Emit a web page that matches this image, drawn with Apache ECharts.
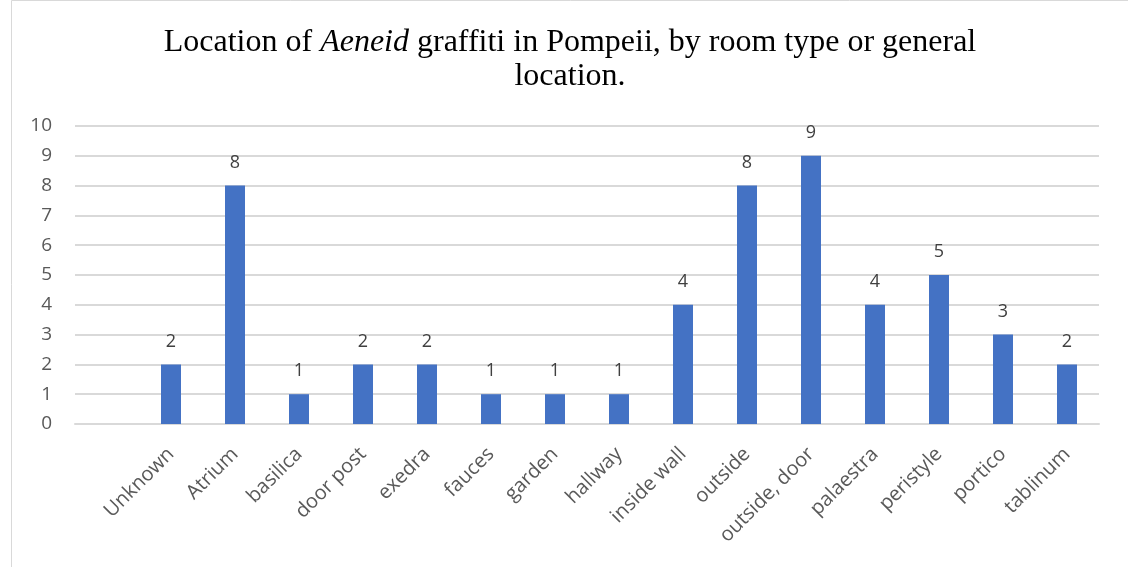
<!DOCTYPE html>
<html>
<head>
<meta charset="utf-8">
<script src="https://cdn.jsdelivr.net/npm/echarts@6/dist/echarts.min.js"></script>
<style>
  html, body { margin: 0; padding: 0; background: #fff; }
  #chart { width: 1128px; height: 567px; }
</style>
</head>
<body>
<div id="chart"></div>
<script>
// first slot is an empty category, like in the source sheet
var categories = ["", "Unknown", "Atrium", "basilica", "door post", "exedra", "fauces", "garden",
  "hallway", "inside wall", "outside", "outside, door", "palaestra", "peristyle", "portico", "tablinum"];
var counts = [null, 2, 8, 1, 2, 2, 1, 1, 1, 4, 8, 9, 4, 5, 3, 2];
var yTicks = [0, 10, 1]; // min, max, interval

var chart = echarts.init(document.getElementById("chart"));

chart.setOption({
  animation: false,
  title: {
    left: 565,
    textAlign: "center",
    top: 21,
    text: "{n|Location of }{i|Aeneid}{n| graffiti in Pompeii, by room type or general}\n{n|location.}",
    textStyle: {
      fontWeight: "normal",
      rich: {
        n: { fontFamily: "Liberation Serif", fontSize: 32, fontWeight: "normal", color: "#000", lineHeight: 34 },
        i: { fontFamily: "Liberation Serif", fontSize: 32, fontWeight: "normal", fontStyle: "italic", color: "#000", lineHeight: 34 }
      }
    }
  },
  graphic: [{
    type: "rect",
    shape: { x: 11.5, y: 0.5, width: 1200, height: 700 },
    style: { fill: "none", stroke: "#d9d9d9", lineWidth: 1 },
    silent: true
  }],
  grid: { left: 75, right: 29, top: 126, bottom: 143 },
  xAxis: {
    type: "category",
    data: categories,
    axisLine: { show: true, lineStyle: { color: "#d9d9d9", width: 2 } },
    axisTick: { show: false },
    axisLabel: {
      interval: 0,
      rotate: 45,
      margin: 27,
      fontFamily: "Open Sans",
      fontSize: 20,
      color: "#595959"
    }
  },
  yAxis: {
    type: "value",
    min: yTicks[0],
    max: yTicks[1],
    interval: yTicks[2],
    axisLine: { show: false },
    axisTick: { show: false },
    splitLine: { lineStyle: { color: "#d9d9d9", width: 2 } },
    axisLabel: {
      margin: 23,
      fontFamily: "Open Sans",
      fontSize: 19,
      color: "#595959"
    }
  },
  series: [{
    type: "bar",
    data: counts,
    barWidth: 20,
    itemStyle: { color: "#4472c4" },
    label: {
      show: true,
      position: "top",
      distance: 14,
      fontFamily: "Open Sans",
      fontSize: 18,
      color: "#404040"
    }
  }]
});
</script>
</body>
</html>
